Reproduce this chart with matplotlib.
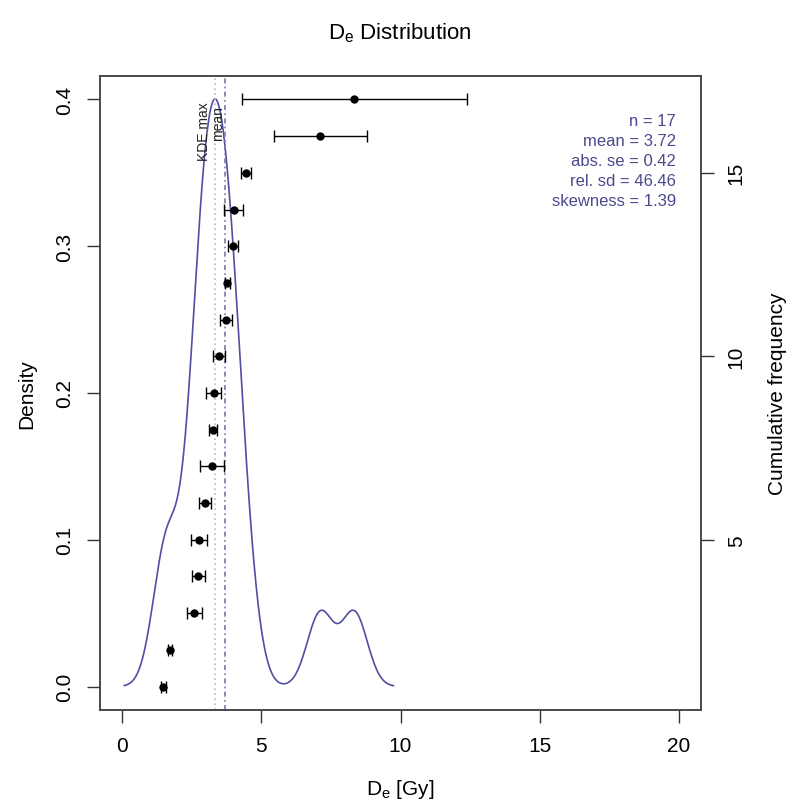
import numpy as np
import matplotlib
matplotlib.use("Agg")
import matplotlib.pyplot as plt
from matplotlib import font_manager

# ---------------- data ----------------
de_values = [1.48, 1.72, 2.59, 2.74, 2.75, 2.97, 3.22, 3.27, 3.28, 3.48,
             3.72, 3.78, 3.98, 4.00, 4.46, 7.12, 8.34]
de_errors = [0.08, 0.08, 0.27, 0.22, 0.28, 0.22, 0.44, 0.14, 0.26, 0.21,
             0.22, 0.10, 0.17, 0.35, 0.18, 1.68, 4.04]
stat_labels = ["n = 17", "mean = 3.72", "abs. se = 0.42",
               "rel. sd = 46.46", "skewness = 1.39"]
x_ticks = [0, 5, 10, 15, 20]
y_ticks = [0.0, 0.1, 0.2, 0.3, 0.4]
y_ticklabels = ["0.0", "0.1", "0.2", "0.3", "0.4"]
cum_ticks = [5, 10, 15]

# ---------------- fonts ----------------
avail = {f.name for f in font_manager.fontManager.ttflist}
fam = "Liberation Sans Narrow" if "Liberation Sans Narrow" in avail else "Liberation Sans"
plt.rcParams["font.family"] = [fam, "DejaVu Sans"]
plt.rcParams["mathtext.default"] = "regular"
plt.rcParams["mathtext.fontset"] = "custom"
plt.rcParams["mathtext.rm"] = fam

# ---------------- KDE (R density, bw.nrd0) ----------------
x = np.asarray(de_values)
n = len(x)
sd = x.std(ddof=1)
iqr = np.percentile(x, 75) - np.percentile(x, 25)
bw = 0.9 * min(sd, iqr / 1.34) * n ** (-0.2)
grid = np.linspace(x.min() - 3 * bw, x.max() + 3 * bw, 512)
dens = np.exp(-0.5 * ((grid[:, None] - x[None, :]) / bw) ** 2).sum(1) / (n * bw * np.sqrt(2 * np.pi))
kde_max = grid[np.argmax(dens)]
mean_val = x.mean()

# ---------------- figure ----------------
W, H = 798, 803
fig = plt.figure(figsize=(W / 100, H / 100), dpi=100)
left, right, top, bottom = 100, 701, 77, 711
ax = fig.add_axes([left / W, 1 - bottom / H, (right - left) / W, (bottom - top) / H])

curve_col = "#4F4FA3"
text_col = "#4A4A8C"
fs = 15

ax.plot(grid, dens, color=curve_col, lw=1.2)
ax.set_xlim(-0.8, 20.8)
ax.set_ylim(-0.016, 0.416)
ax.axvline(kde_max, color="#B8B8C8", lw=1.2, ls=(0, (1, 2)))
ax.axvline(mean_val, color="#7A7AA8", lw=1.2, ls=(0, (3, 2, 1, 2)))

ax.text(kde_max - 0.14, 0.399, "KDE max", rotation=90, ha="right", va="top",
        fontsize=10, color="#222222")
ax.text(mean_val, 0.396, "mean", rotation=90, ha="right", va="top",
        fontsize=10, color="#222222")

for i, s in enumerate(stat_labels):
    ax.text(676 / W, 1 - (122 + 20 * i) / H, s, transform=fig.transFigure,
            ha="right", va="center", fontsize=12, color=text_col)

ax.set_xticks(x_ticks)
ax.set_xticklabels([str(t) for t in x_ticks], fontsize=fs)
ax.set_yticks(y_ticks)
ax.set_yticklabels(y_ticklabels, fontsize=fs, rotation=90, va="center")
ax.tick_params(length=9.5, width=1, pad=9, color="#333333")
for sp in ax.spines.values():
    sp.set_linewidth(1.1)
    sp.set_color("#444444")

ax.set_xlabel("D$_e$ [Gy]", fontsize=fs, labelpad=16)
ax.set_ylabel("Density", fontsize=fs, labelpad=14)

ax2 = ax.twinx()
ax2.set_ylim(0.36, 17.64)
ax2.errorbar(x, np.arange(1, n + 1), xerr=de_errors, fmt="o", color="black",
             ms=5, capsize=4, elinewidth=1, capthick=1)
ax2.set_yticks(cum_ticks)
ax2.set_yticklabels([str(t) for t in cum_ticks], fontsize=fs, rotation=90, va="center")
ax2.tick_params(length=9.5, width=1, pad=9, color="#333333")
ax2.set_ylabel("Cumulative frequency", fontsize=fs, labelpad=16)
for sp in ax2.spines.values():
    sp.set_linewidth(1.1)
    sp.set_color("#444444")

fig.text(400 / W, 1 - 33 / H, "D$_e$ Distribution", ha="center", va="center", fontsize=16)

fig.savefig("out.png", dpi=100)
